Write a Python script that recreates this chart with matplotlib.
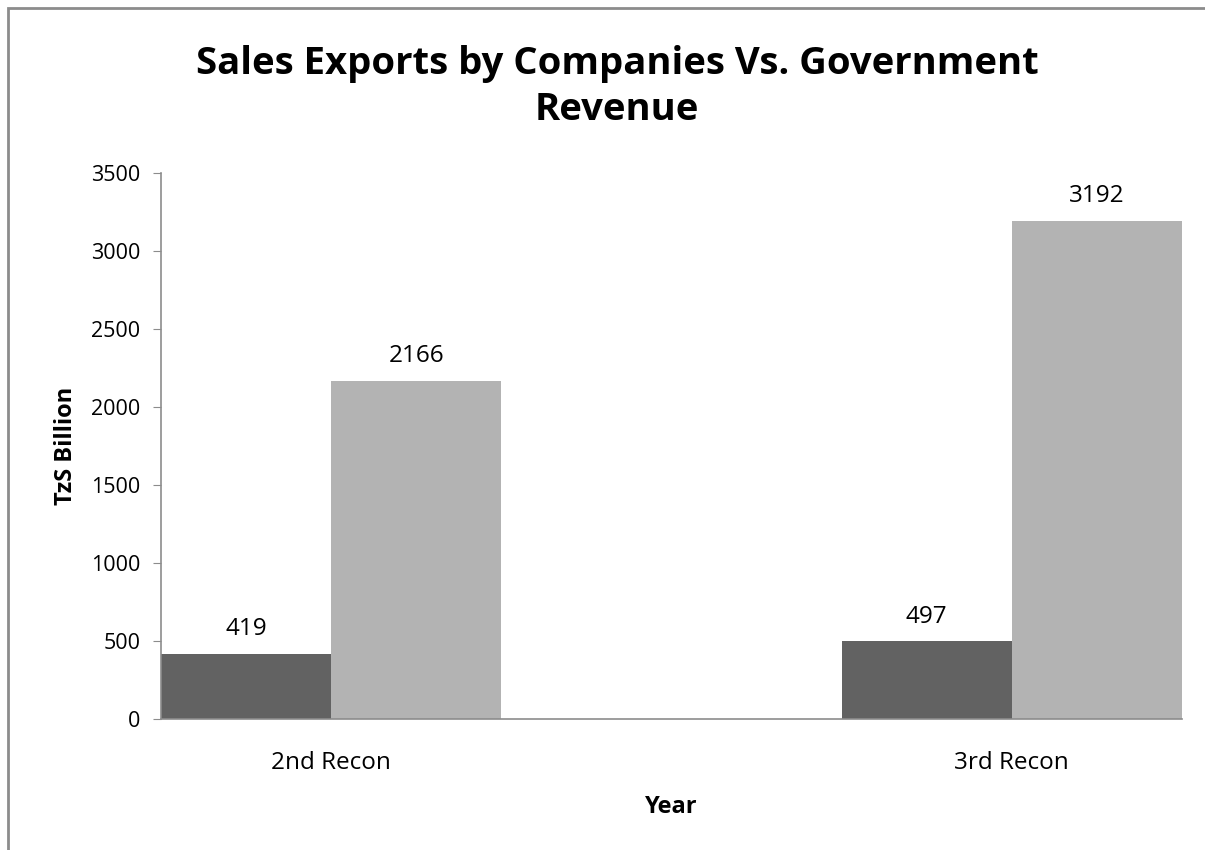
import matplotlib.pyplot as plt
import numpy as np
from matplotlib.patches import Rectangle

plt.rcParams["font.family"] = ["Open Sans", "DejaVu Sans"]

# Sales exports vs. government revenue, TzS billion
categories = ["2nd Recon", "3rd Recon"]
series_dark = [419, 497]
series_light = [2166, 3192]

DARK = "#626262"
LIGHT = "#B3B3B3"
AXIS = "#8C8C8C"

fig = plt.figure(figsize=(12.05, 8.5), dpi=100)
ax = fig.add_axes([161 / 1205, 1 - 719 / 850, (1182 - 161) / 1205, (719 - 173) / 850])

x = np.arange(len(categories))
w = 0.25
bars_dark = ax.bar(x - w / 2, series_dark, width=w, color=DARK, linewidth=0)
bars_light = ax.bar(x + w / 2, series_light, width=w, color=LIGHT, linewidth=0)

for bars in (bars_dark, bars_light):
    for b in bars:
        ax.annotate(f"{b.get_height():.0f}", (b.get_x() + b.get_width() / 2, b.get_height()),
                    xytext=(0, 13.5), textcoords="offset points", ha="center", va="baseline",
                    fontsize=17.5)

ax.set_xlim(-0.25, 1.25)
ax.set_ylim(0, 3500)
ax.set_yticks(np.arange(0, 3501, 500))
ax.set_xticks(x)
ax.set_xticklabels(categories, fontsize=17.5)
ax.tick_params(axis="x", length=0, pad=23)
ax.tick_params(axis="y", length=6, color=AXIS, labelsize=15.5, pad=9, direction="out")

for side in ("top", "right"):
    ax.spines[side].set_visible(False)
for side in ("left", "bottom"):
    ax.spines[side].set_color(AXIS)
    ax.spines[side].set_linewidth(1.2)

ax.set_ylabel("TzS Billion", fontsize=17, fontweight="bold")
ax.yaxis.set_label_coords(-0.081, 0.5)
ax.set_xlabel("Year", fontsize=17, fontweight="bold")
ax.xaxis.set_label_coords(0.5, -0.139)

fig.text(617 / 1205, 1 - 87 / 850, "Sales Exports by Companies Vs. Government\nRevenue",
         ha="center", va="center", fontsize=27.5, fontweight="bold", linespacing=1.29)

# chart frame (left and top edges fall inside the image)
fig.patches.append(Rectangle((8 / 1205, -0.1), 1.2, 1 - 8 / 850 + 0.1,
                             transform=fig.transFigure, fill=False,
                             edgecolor="#8C8C8C", linewidth=2))

fig.savefig("out.png", dpi=100, facecolor="white")
